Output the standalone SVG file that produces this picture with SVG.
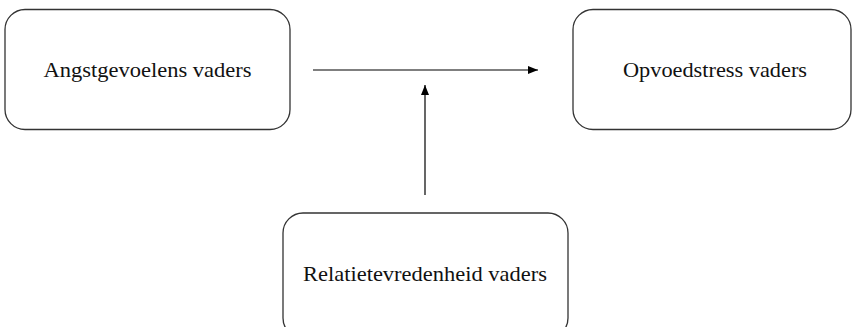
<svg xmlns="http://www.w3.org/2000/svg" width="853" height="327" viewBox="0 0 853 327">
<defs>
<style>
.box{fill:#fff;stroke:#333;stroke-width:1.3}
.lbl{font-family:"Liberation Serif","Times New Roman",serif;font-size:21px;fill:#111;text-anchor:middle}
.conn{stroke:#000;stroke-width:1.2;fill:none}
</style>
<marker id="ah" markerWidth="10" markerHeight="8" refX="10" refY="4" orient="auto" markerUnits="userSpaceOnUse">
<path d="M0,0 L10,4 L0,8 Z" fill="#000"/>
</marker>
</defs>
<rect width="853" height="327" fill="#fff"/>
<g id="node-angst">
<rect class="box" x="5" y="9.5" width="285" height="120" rx="20" ry="20"/>
<text class="lbl" x="147.5" y="77" textLength="208" lengthAdjust="spacingAndGlyphs">Angstgevoelens vaders</text>
</g>
<g id="node-opvoed">
<rect class="box" x="573" y="9.5" width="278" height="120" rx="20" ry="20"/>
<text class="lbl" x="715" y="77" textLength="184" lengthAdjust="spacingAndGlyphs">Opvoedstress vaders</text>
</g>
<g id="node-relatie">
<rect class="box" x="283" y="213" width="285" height="125" rx="20" ry="20"/>
<text class="lbl" x="425" y="281" textLength="244" lengthAdjust="spacingAndGlyphs">Relatietevredenheid vaders</text>
</g>
<g id="connectors">
<line class="conn" x1="313" y1="70" x2="538" y2="70" marker-end="url(#ah)"/>
<line class="conn" x1="425" y1="195" x2="425" y2="85" marker-end="url(#ah)"/>
</g>
</svg>
